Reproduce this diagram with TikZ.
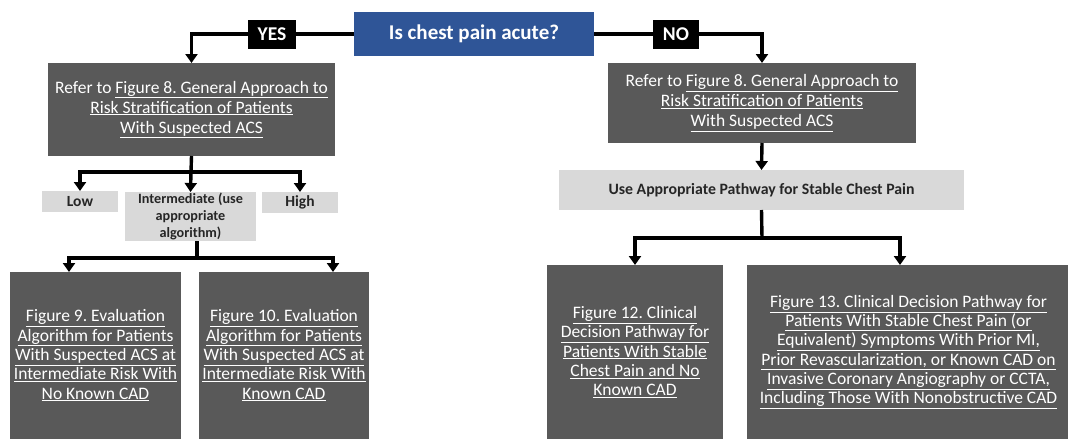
\documentclass[tikz,border=0pt]{standalone}
\usepackage{fontspec}
\setmainfont{Carlito}
\frenchspacing
\usetikzlibrary{arrows.meta,positioning}
\definecolor{qblue}{HTML}{2F5597}
\definecolor{darkbox}{HTML}{595959}
\definecolor{lightbox}{HTML}{D9D9D9}
\definecolor{darktext}{HTML}{262626}
\begin{document}
\begin{tikzpicture}[x=1pt,y=-1pt,
  box/.style={draw=none,inner sep=0pt,outer sep=0pt,align=center},
  qbox/.style={box,fill=qblue,text=white,font=\fontsize{21}{24}\selectfont\bfseries},
  tagbox/.style={box,fill=black,text=white,font=\fontsize{19.5}{22}\selectfont\bfseries},
  refbox/.style={box,fill=darkbox,text=white,font=\fontsize{17.5}{20}\selectfont},
  figbox/.style={box,fill=darkbox,text=white,font=\fontsize{17.5}{19.3}\selectfont},
  riskbox/.style={box,fill=lightbox,text=darktext,font=\fontsize{15.5}{17}\selectfont\bfseries},
  conn/.style={line width=3.4pt,draw=black},
  arr/.style={conn,-{Triangle[width=12pt,length=9pt]}}]
\useasboundingbox (0,0) rectangle (1068,439);

% question and answers
\node[qbox,minimum width=240pt,minimum height=44pt] (q) at (474,34) {Is chest pain acute?};
\node[tagbox,minimum width=48pt,minimum height=29pt] (yes) at (272,34) {YES};
\node[tagbox,minimum width=46pt,minimum height=29pt] (no) at (676,34) {NO};

% risk stratification references
\node[refbox,minimum width=287pt,minimum height=93pt] (L1) at (191.5,109.5)
  {Refer to \underline{Figure 8. General Approach to}\\\underline{Risk Stratification of Patients}\\\underline{With Suspected ACS}};
\node[refbox,minimum width=308pt,minimum height=80pt] (R1) at (762,103)
  {Refer to \underline{Figure 8. General Approach to}\\\underline{Risk Stratification of Patients}\\\underline{With Suspected ACS}};

% risk levels
\node[riskbox,minimum width=76pt,minimum height=21pt] (low) at (80,201.5) {Low};
\node[riskbox,minimum width=131pt,minimum height=49pt,font=\fontsize{14.2}{16.7}\selectfont\bfseries] (inter) at (190.5,216.5)
  {Intermediate (use\\appropriate\\algorithm)};
\node[riskbox,minimum width=76pt,minimum height=21pt] (high) at (300,202.5) {High};
\node[riskbox,minimum width=405pt,minimum height=40pt,font=\fontsize{15.8}{18}\selectfont\bfseries] (stable) at (761.5,190)
  {Use Appropriate Pathway for Stable Chest Pain};

% algorithm figures
\node[figbox,minimum width=171pt,minimum height=167pt] (f9) at (95.5,355.5)
  {\underline{Figure 9. Evaluation}\\\underline{Algorithm for Patients}\\\underline{With Suspected ACS at}\\\underline{Intermediate Risk With}\\\underline{No Known CAD}};
\node[figbox,minimum width=170pt,minimum height=167pt] (f10) at (284,355.5)
  {\underline{Figure 10. Evaluation}\\\underline{Algorithm for Patients}\\\underline{With Suspected ACS at}\\\underline{Intermediate Risk With}\\\underline{Known CAD}};
\node[figbox,minimum width=176pt,minimum height=174pt] (f12) at (635,352)
  {\underline{Figure 12. Clinical}\\\underline{Decision Pathway for}\\\underline{Patients With Stable}\\\underline{Chest Pain and No}\\\underline{Known CAD}};
\node[figbox,minimum width=323pt,minimum height=174pt] (f13) at (908.5,352)
  {\underline{Figure 13. Clinical Decision Pathway for}\\\underline{Patients With Stable Chest Pain (or}\\\underline{Equivalent) Symptoms With Prior MI,}\\\underline{Prior Revascularization, or Known CAD on}\\\underline{Invasive Coronary Angiography or CCTA,}\\\underline{Including Those With Nonobstructive CAD}};

% branch points
\coordinate (fkL) at (191,172);
\coordinate (fkI) at (197,258);
\coordinate (a9) at (69,272);
\coordinate (a10) at (333,272);
\coordinate (fkR) at (762,238);
\coordinate (a13) at (900,265);

% connectors
\draw[conn] (q.west) -- (yes.east);
\draw[arr] (yes.west) -| (L1.north);
\draw[conn] (q.east) -- (no.west);
\draw[arr] (no.east) -| (R1.north);

\draw[conn] (L1.south) -- (fkL);
\draw[arr] (fkL) -| (low.north);
\draw[arr] (fkL) -- (inter.north);
\draw[arr] (fkL) -| (high.north);

\draw[conn] (fkI |- inter.south) -- (fkI);
\draw[arr] (fkI) -| (a9);
\draw[arr] (fkI) -| (a10);

\draw[arr] (R1.south) -- (stable.north);
\draw[conn] (stable.south) -- (fkR);
\draw[arr] (fkR) -| (f12.north);
\draw[arr] (fkR) -| (a13);
\end{tikzpicture}
\end{document}
